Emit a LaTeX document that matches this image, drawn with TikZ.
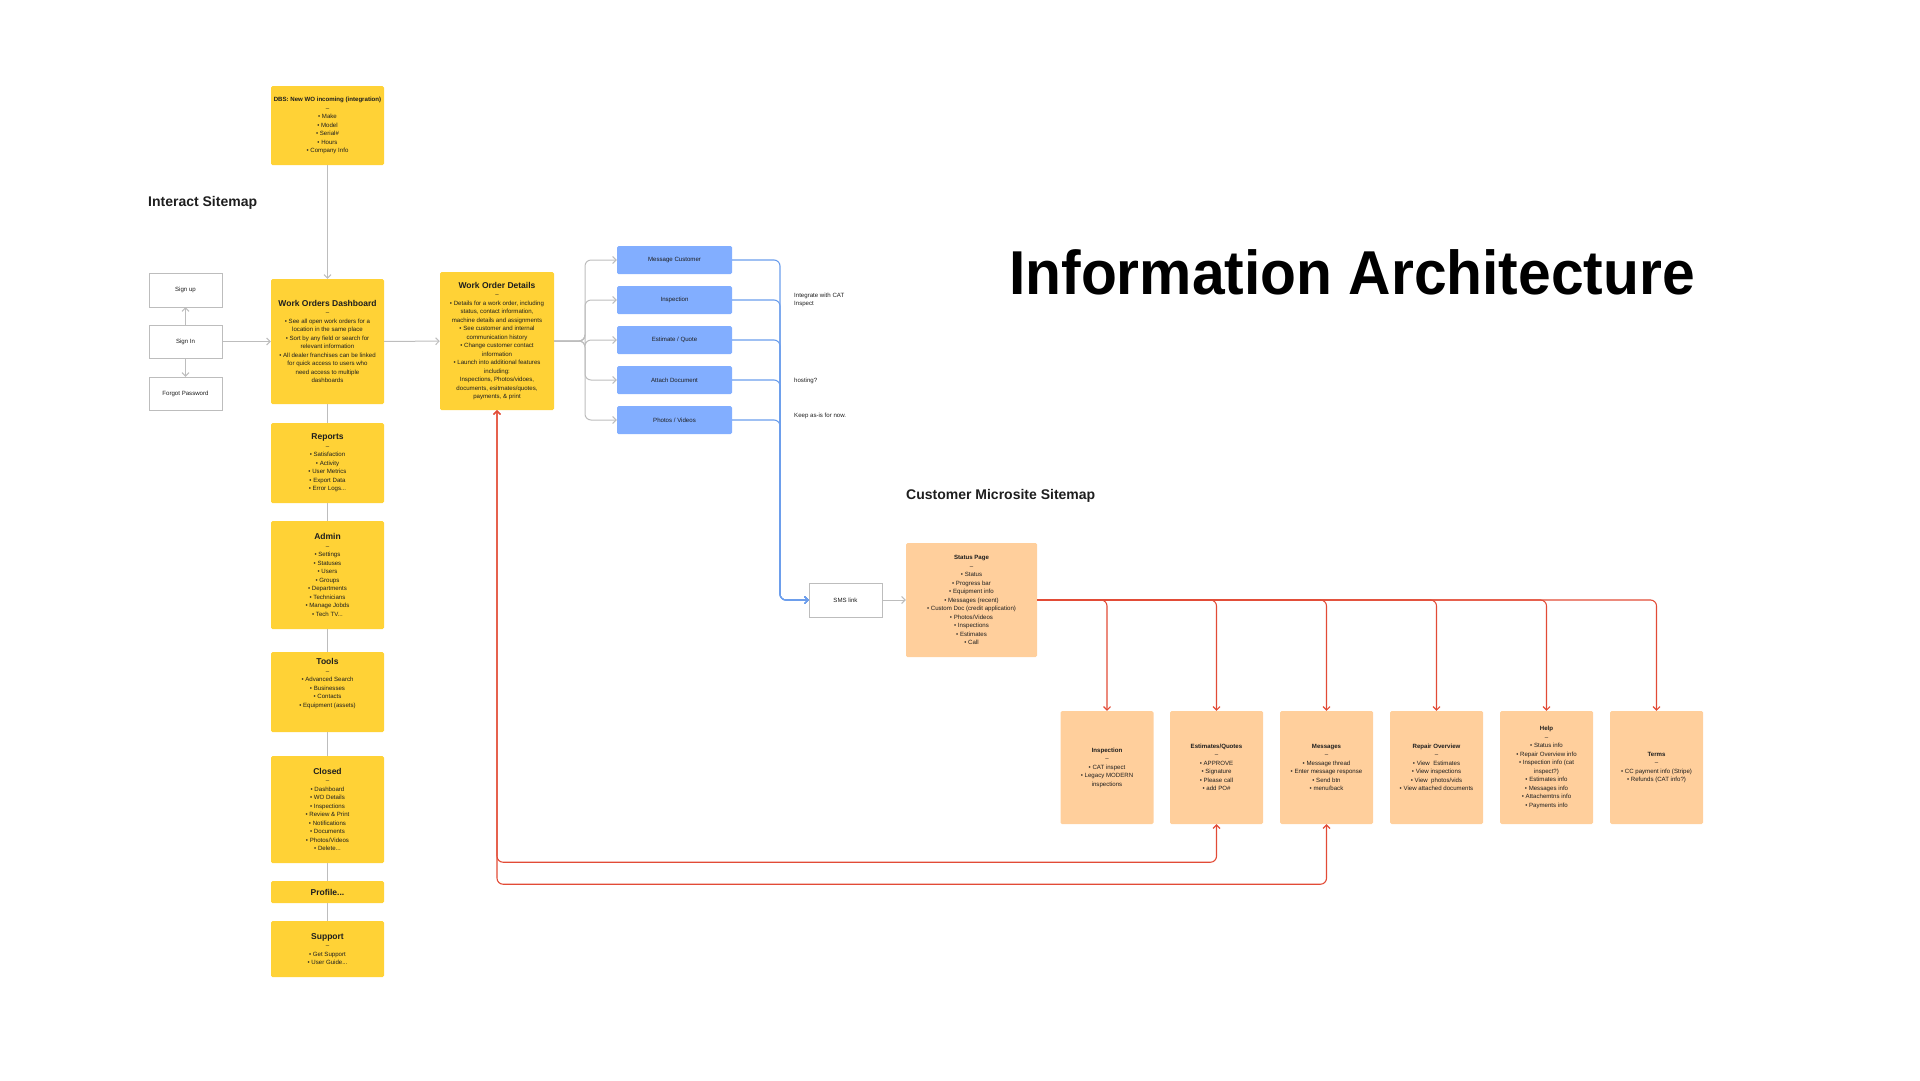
\documentclass[tikz,border=0pt]{standalone}
\usepackage{graphicx}
\usepackage{fontspec}
\setmainfont{Liberation Sans}
\usetikzlibrary{arrows.meta}
\definecolor{stickyyellow}{HTML}{FFD236}
\definecolor{stickyblue}{HTML}{82AEFF}
\definecolor{stickypeach}{HTML}{FFCF9C}
\definecolor{inkdark}{HTML}{1E1E1E}
\definecolor{linegray}{HTML}{BDBDBD}
\definecolor{lineblue}{HTML}{6C9EEC}
\definecolor{linered}{HTML}{E24B36}
\newcommand{\tinytext}{\fontsize{6.1}{8.5}\selectfont}
\newcommand{\boxhead}[1]{{\fontsize{8.5}{11}\selectfont\bfseries #1}}

\begin{document}
\begin{tikzpicture}[x=1pt,y=-1pt,
  sticky/.style={rounded corners=1.5pt,minimum width=113pt,align=center,font=\tinytext,text=inkdark,inner sep=2pt},
  yellowbox/.style={sticky,fill=stickyyellow},
  bluebox/.style={sticky,fill=stickyblue,minimum width=115pt,minimum height=28pt},
  peachbox/.style={sticky,fill=stickypeach,minimum width=93pt,minimum height=113pt},
  plainbox/.style={draw=linegray,fill=white,font=\tinytext,text=inkdark,minimum width=73pt,minimum height=34pt},
  note/.style={font=\tinytext,text=inkdark,align=left,anchor=west,inner sep=0pt},
  section/.style={font=\fontsize{14}{16}\selectfont\bfseries,text=inkdark,anchor=west,inner sep=0pt},
  gline/.style={draw=linegray,line width=1pt},
  bline/.style={draw=lineblue,line width=1.1pt,rounded corners=6pt},
  rline/.style={draw=linered,line width=1.1pt,rounded corners=6pt},
  >={Straight Barb[length=3.5pt,width=7pt]}]
\useasboundingbox (0,0) rectangle (1920,1080);

\node[anchor=base west,inner sep=0pt,text=black] (title) at (1009,294)
  {\scalebox{0.948}[1]{\fontsize{62}{66}\selectfont\bfseries Information Architecture}};
\node[section] (interact) at (148,203) {Interact Sitemap};
\node[section] (micro) at (906,496) {Customer Microsite Sitemap};

% interact column
\node[yellowbox,minimum height=79pt] (dbs) at (327.5,125.5)
  {\textbf{DBS: New WO incoming (integration)}\\–\\• Make\\• Model\\• Serial\#\\• Hours\\• Company Info};
\node[yellowbox,minimum height=125pt] (dash) at (327.5,341.5)
  {\boxhead{Work Orders Dashboard}\\–\\• See all open work orders for a\\location in the same place\\• Sort by any field or search for\\relevant information\\• All dealer franchises can be linked\\for quick access to users who\\need access to multiple\\dashboards};
\node[yellowbox,minimum height=80pt] (reports) at (327.5,463)
  {\boxhead{Reports}\\–\\• Satisfaction\\• Activity\\• User Metrics\\• Export Data\\• Error Logs...};
\node[yellowbox,minimum height=108pt] (admin) at (327.5,575)
  {\boxhead{Admin}\\–\\• Settings\\• Statuses\\• Users\\• Groups\\• Departments\\• Technicians\\• Manage Jobds\\• Tech TV...};
\node[yellowbox,minimum height=80pt] (tools) at (327.5,692)
  {\boxhead{Tools}\\–\\• Advanced Search\\• Businesses\\• Contacts\\• Equipment (assets)\\[10pt]};
\node[yellowbox,minimum height=107pt] (closed) at (327.5,809.5)
  {\boxhead{Closed}\\–\\• Dashboard\\• WO Details\\• Inspections\\• Review \& Print\\• Notifications\\• Documents\\• Photos/Videos\\• Delete...};
\node[yellowbox,minimum height=22pt] (profile) at (327.5,892) {\boxhead{Profile...}};
\node[yellowbox,minimum height=56pt] (support) at (327.5,949)
  {\boxhead{Support}\\–\\• Get Support\\• User Guide...};

\node[plainbox] (signup) at (185.5,290) {Sign up};
\node[plainbox,minimum height=33pt] (signin) at (185.5,341.5) {Sign In};
\node[plainbox,minimum height=33pt] (forgot) at (185.5,393.5) {Forgot Password};

\node[yellowbox,minimum width=114pt,minimum height=138pt] (wod) at (497,341)
  {\boxhead{Work Order Details}\\–\\• Details for a work order, including\\status, contact information,\\machine details and assignments\\• See customer and internal\\communication history\\• Change customer contact\\information\\• Launch into additional features\\including:\\Inspections, Photos/vidoes,\\documents, esitmates/quotes,\\payments, \& print};

\node[bluebox] (msg) at (674.5,260) {Message Customer};
\node[bluebox] (insp) at (674.5,300) {Inspection};
\node[bluebox] (quote) at (674.5,340) {Estimate / Quote};
\node[bluebox] (attach) at (674.5,380) {Attach Document};
\node[bluebox] (media) at (674.5,420) {Photos / Videos};

\node[note] (catnote) at (794,300) {Integrate with CAT\\Inspect};
\node[note] (hostnote) at (794,381) {hosting?};
\node[note] (keepnote) at (794,416) {Keep as-is for now.};

% customer microsite
\node[plainbox] (sms) at (845.5,600) {SMS link};
\node[sticky,fill=stickypeach,minimum width=131pt,minimum height=114pt] (status) at (971.5,600)
  {\textbf{Status Page}\\–\\• Status\\• Progress bar\\• Equipment info\\• Messages (recent)\\• Custom Doc (credit application)\\• Photos/Videos\\• Inspections\\• Estimates\\• Call};

\node[peachbox] (cinsp) at (1107,767.5)
  {\textbf{Inspection}\\–\\• CAT inspect\\• Legacy MODERN\\inspections};
\node[peachbox] (cest) at (1216.5,767.5)
  {\textbf{Estimates/Quotes}\\–\\• APPROVE\\• Signature\\• Please call\\• add PO\#};
\node[peachbox] (cmsg) at (1326.5,767.5)
  {\textbf{Messages}\\–\\• Message thread\\• Enter message response\\• Send btn\\• menu/back};
\node[peachbox] (crep) at (1436.5,767.5)
  {\textbf{Repair Overview}\\–\\• View\ \ Estimates\\• View inspections\\• View\ \ photos/vids\\• View attached documents};
\node[peachbox] (chelp) at (1546.5,767.5)
  {\textbf{Help}\\–\\• Status info\\• Repair Overview info\\• Inspection info (cat\\inspect?)\\• Estimates info\\• Messages info\\• Attachemtns info\\• Payments info};
\node[peachbox] (cterms) at (1656.5,767.5)
  {\textbf{Terms}\\–\\• CC payment info (Stripe)\\• Refunds (CAT info?)};

% gray connectors
\draw[gline,->] (dbs) -- (dash);
\draw[gline,->] (signin) -- (dash);
\draw[gline,->] (signin) -- (signup);
\draw[gline,->] (signin) -- (forgot);
\draw[gline] (dash) -- (reports) -- (admin) -- (tools) -- (closed) -- (profile) -- (support);
\draw[gline,->] (dash) -- (wod);
\coordinate (wodfork) at (585,341);
\foreach \b in {msg,insp,quote,attach,media}
  \draw[gline,->,rounded corners=6pt] (wod.east) -- (wodfork) |- (\b.west);
\draw[gline,->] (sms) -- (status);

% blue connectors
\coordinate (bluebus) at (780,600);
\foreach \b in {msg,insp,quote,attach,media}
  \draw[bline,->] (\b.east) -| (bluebus) -- (sms.west);

% red connectors
\foreach \c in {cinsp,cest,cmsg,crep,chelp,cterms}
  \draw[rline,->] (status.east) -| (\c.north);
\draw[rline,<->] (wod.south) |- ([yshift=-38pt]cest.south) -- (cest.south);
\draw[rline,<->] (wod.south) |- ([yshift=-60pt]cmsg.south) -- (cmsg.south);
\end{tikzpicture}
\end{document}
